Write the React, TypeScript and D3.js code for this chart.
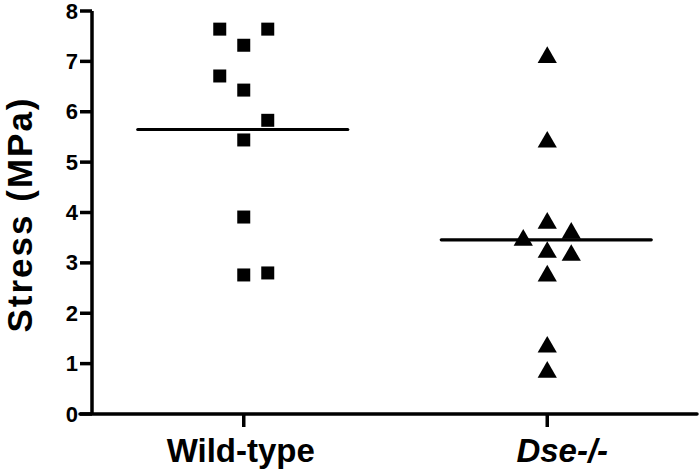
import { scaleLinear, scalePoint, symbol, symbolSquare, symbolTriangle, mean } from 'd3'

// groups on the x axis
const groups = ['Wild-type', 'Dse-/-']

const wildType = [7.64, 7.64, 7.32, 6.71, 6.43, 5.83, 5.44, 3.91, 2.76, 2.8]
const wildTypeCol = [-1, 1, 0, -1, 0, 1, 0, 0, 0, 1]
const dse = [7.08, 5.4, 3.79, 3.59, 3.45, 3.21, 3.15, 2.74, 1.33, 0.83]
const dseCol = [0, 0, 0, 1, -1, 0, 1, 0, 0, 0]

const yTicks = [0, 1, 2, 3, 4, 5, 6, 7, 8]

const W = 700
const H = 472
const FONT = '"Liberation Sans", Arial, Helvetica, sans-serif'

export default function App() {
  // axis placement
  const x = scalePoint<string>().domain(groups).range([92, 699]).padding(0.5)
  const y = scaleLinear().domain([0, 8]).range([414, 11])
  const jitter = scaleLinear().domain([-1, 1]).range([-24, 24])

  const square = symbol().type(symbolSquare).size(169)()
  const triangle = symbol().type(symbolTriangle).size(160)()

  const series = [
    { name: groups[0], values: wildType, cols: wildTypeCol, path: square },
    { name: groups[1], values: dse, cols: dseCol, path: triangle },
  ]

  const x0 = x.range()[0]
  const x1 = x.range()[1]

  return (
    <svg
      width={W}
      height={H}
      style={{ position: 'absolute', left: 0, top: 0, background: '#fff' }}
      fontFamily={FONT}
    >
      {/* y axis */}
      <line x1={x0} x2={x0} y1={y(8)} y2={y(0)} stroke="#000" strokeWidth={3.5} />
      {yTicks.map((t) => (
        <g key={t}>
          <line x1={x0 - 12} x2={x0} y1={y(t)} y2={y(t)} stroke="#000" strokeWidth={3.5} />
          <text
            x={x0 - 14}
            y={y(t)}
            textAnchor="end"
            dominantBaseline="central"
            fontSize={22}
            fontWeight="bold"
          >
            {t}
          </text>
        </g>
      ))}
      <text
        transform={`translate(32, ${(y(0) + y(8)) / 2 + 2}) rotate(-90)`}
        textAnchor="middle"
        fontSize={35}
        fontWeight="bold"
        letterSpacing={2}
      >
        Stress (MPa)
      </text>

      {/* x axis */}
      <line
        x1={x0 - 12}
        x2={x1 - 2}
        y1={y(0)}
        y2={y(0)}
        stroke="#000"
        strokeWidth={3.5}
        strokeLinecap="round"
      />
      {groups.map((g, i) => (
        <g key={g}>
          <line x1={x(g)} x2={x(g)} y1={y(0)} y2={y(0) + 13} stroke="#000" strokeWidth={3.5} />
          <text
            x={(x(g) as number) + (i === 1 ? 15 : -3)}
            y={462}
            textAnchor="middle"
            fontSize={33}
            fontWeight="bold"
            fontStyle={i === 1 ? 'italic' : 'normal'}
          >
            {g}
          </text>
        </g>
      ))}

      {/* points and mean lines */}
      {series.map((s) => {
        const cx = x(s.name) as number
        const m = mean(s.values) as number
        return (
          <g key={s.name}>
            {s.values.map((v, i) => (
              <path
                key={i}
                d={s.path}
                transform={`translate(${cx + jitter(s.cols[i])}, ${y(v)})`}
                fill="#000"
              />
            ))}
            <line
              x1={cx - 106}
              x2={cx + 104}
              y1={y(m)}
              y2={y(m)}
              stroke="#000"
              strokeWidth={3.2}
              strokeLinecap="round"
            />
          </g>
        )
      })}
    </svg>
  )
}
